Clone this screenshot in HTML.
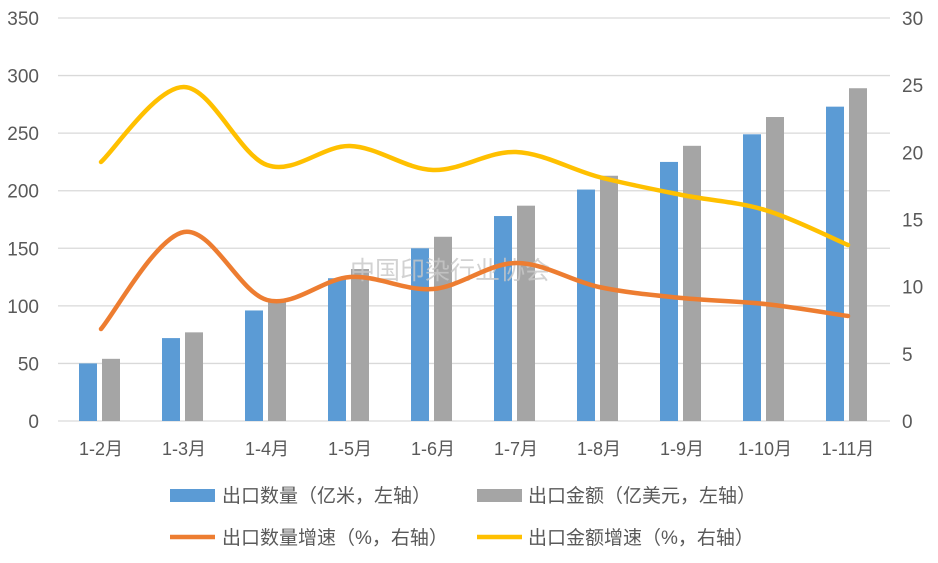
<!DOCTYPE html>
<html><head><meta charset="utf-8"><style>
body{margin:0;background:#fff;}
svg text{font-family:"Liberation Sans","Noto Sans CJK SC",sans-serif;fill:#595959;}
</style></head><body>
<svg id="s" width="938" height="558" xmlns="http://www.w3.org/2000/svg"></svg>
<script>
const s=document.getElementById('s');let h='';
const y0=421,ppu=403/350;
for(let i=0;i<=7;i++){const y=y0-i*50*ppu;
h+=`<line x1="58" x2="890" y1="${y}" y2="${y}" stroke="#d9d9d9" stroke-width="1.3"/>`;
h+=`<text x="39" y="${y+7}" font-size="19" text-anchor="end">${i*50}</text>`;}
for(let i=0;i<=6;i++){const y=y0-i*403/6;
h+=`<text x="902" y="${y+7}" font-size="19">${i*5}</text>`;}
const cats=['1-2月','1-3月','1-4月','1-5月','1-6月','1-7月','1-8月','1-9月','1-10月','1-11月'];
const b=[50,72,96,124,150,178,201,225,249,273],g=[54,77,104,132,160,187,213,239,264,289];
const cx=i=>101+i*83;
cats.forEach((c,i)=>{const x=cx(i);
h+=`<rect x="${x-22}" y="${y0-b[i]*ppu}" width="18" height="${b[i]*ppu}" fill="#5b9bd5"/>`;
h+=`<rect x="${x+1}" y="${y0-g[i]*ppu}" width="18" height="${g[i]*ppu}" fill="#a5a5a5"/>`;
h+=`<text x="${x}" y="455" font-size="18" text-anchor="middle">${c}</text>`;});
h+=`<text x="450" y="279" font-size="25" text-anchor="middle" style="fill:#c8c8c8;opacity:.8">中国印染行业协会</text>`;
function path(ys){const p=ys.map((y,i)=>[cx(i),y]);let d=`M${p[0][0]},${p[0][1]}`;
for(let i=0;i<p.length-1;i++){const a=p[Math.max(i-1,0)],b1=p[i],c=p[i+1],e=p[Math.min(i+2,p.length-1)];
d+=` C${b1[0]+(c[0]-a[0])/6},${b1[1]+(c[1]-a[1])/6} ${c[0]-(e[0]-b1[0])/6},${c[1]-(e[1]-b1[1])/6} ${c[0]},${c[1]}`;}return d;}
h+=`<path d="${path([329,232,300,277,289,263,287,298,304,316])}" fill="none" stroke="#ed7d31" stroke-width="4.5" stroke-linecap="round"/>`;
h+=`<path d="${path([162,87,165,146,170,152,177,195,210,245])}" fill="none" stroke="#ffc000" stroke-width="4.5" stroke-linecap="round"/>`;
h+=`<rect x="170" y="489" width="45" height="13" fill="#5b9bd5"/><text x="222" y="502" font-size="19">出口数量（亿米，左轴）</text>`;
h+=`<rect x="477" y="489" width="45" height="13" fill="#a5a5a5"/><text x="528" y="502" font-size="19">出口金额（亿美元，左轴）</text>`;
h+=`<line x1="170" x2="215" y1="537" y2="537" stroke="#ed7d31" stroke-width="4.5"/><text x="222" y="544" font-size="19">出口数量增速（%，右轴）</text>`;
h+=`<line x1="477" x2="522" y1="537" y2="537" stroke="#ffc000" stroke-width="4.5"/><text x="528" y="544" font-size="19">出口金额增速（%，右轴）</text>`;
s.innerHTML=h;
</script>
</body></html>
